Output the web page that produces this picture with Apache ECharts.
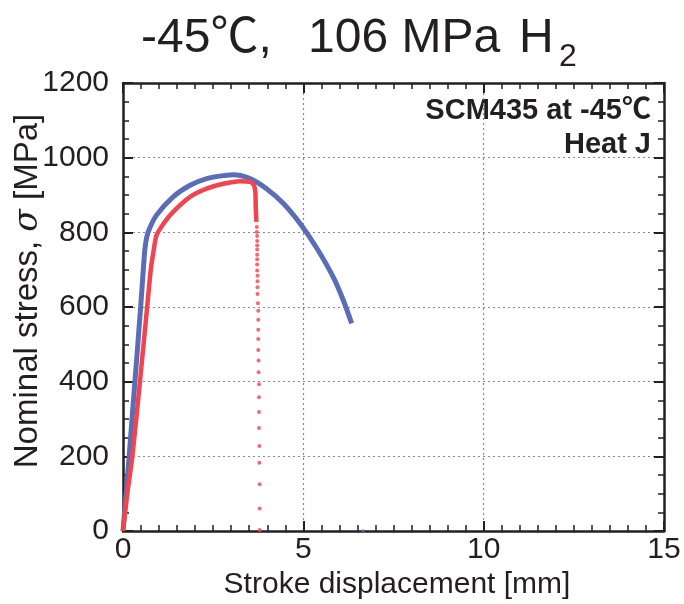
<!DOCTYPE html>
<html>
<head>
<meta charset="utf-8">
<script src="https://cdn.jsdelivr.net/npm/echarts@6/dist/echarts.min.js"></script>
<style>
html, body { margin: 0; padding: 0; background: #fff; }
#chart { width: 684px; height: 604px; }
</style>
</head>
<body>
<div id="chart"></div>
<script>
// Tensile curve, reference (blue) — stroke displacement [mm], nominal stress [MPa]
const refStroke = [0, 0.17, 0.33, 0.49, 0.57, 0.62, 0.70, 0.93, 1.39, 1.86, 2.32, 2.87, 3.06, 3.52, 3.98, 4.44, 4.90, 5.37, 5.83, 6.10, 6.34];
const refStress = [0, 200, 400, 600, 710, 765, 801, 846, 895, 926, 944, 953, 954, 944, 917, 878, 825, 758, 680, 620, 556];

// Tensile curve in 106 MPa H2 (red), continuous part
const h2Stroke = [0, 0.12, 0.26, 0.47, 0.67, 0.77, 0.84, 0.93, 1.16, 1.39, 1.86, 2.32, 2.78, 3.24, 3.52, 3.63, 3.67, 3.68, 3.69, 3.70];
const h2Stress = [0, 100, 200, 400, 600, 700, 745, 792, 828, 855, 895, 917, 930, 937, 935, 926, 908, 870, 845, 828];

// Sparse data points recorded during the final load drop
const dropStroke = [3.71, 3.71, 3.72, 3.72, 3.72, 3.72, 3.72, 3.72, 3.72, 3.72, 3.73, 3.73, 3.73, 3.73, 3.74, 3.75, 3.75, 3.75, 3.75, 3.75, 3.76, 3.76, 3.77, 3.77, 3.77, 3.77, 3.78, 3.78, 3.79, 3.79, 3.79];
const dropStress = [814, 801, 790, 777, 765, 754, 740, 728, 714, 698, 684, 669, 653, 635, 610, 590, 566, 539, 514, 485, 457, 425, 393, 358, 319, 276, 228, 183, 125, 60, 3];

// Stray reference point after fracture
const strayStroke = [6.66];
const strayStress = [0];

const xTicks = [0, 5, 10, 15];
const yTicks = [0, 200, 400, 600, 800, 1000, 1200];

const pairs = (xs, ys) => xs.map((x, i) => [x, ys[i]]);

const INK = '#231f20';
const FONT = '"Liberation Sans", Arial, "Noto Sans CJK JP", sans-serif';

const chart = echarts.init(document.getElementById('chart'), null, { renderer: 'canvas' });

function baseX(extra) {
  return Object.assign({
    type: 'value',
    min: xTicks[0], max: xTicks[xTicks.length - 1], interval: 5,
    axisLine: { show: true, onZero: false, lineStyle: { color: INK, width: 2.5 } },
    axisTick: { show: true, inside: true, length: 10, lineStyle: { color: INK, width: 2 } },
    minorTick: { show: true, splitNumber: 10, length: 6, lineStyle: { color: INK, width: 1.5 } },
    splitLine: { show: false }
  }, extra);
}
function baseY(extra) {
  return Object.assign({
    type: 'value',
    min: yTicks[0], max: yTicks[yTicks.length - 1], interval: 200,
    axisLine: { show: true, onZero: false, lineStyle: { color: INK, width: 2.5 } },
    axisTick: { show: true, inside: true, length: 10, lineStyle: { color: INK, width: 2 } },
    minorTick: { show: true, splitNumber: 4, length: 6, lineStyle: { color: INK, width: 1.5 } },
    splitLine: { show: false }
  }, extra);
}

const titleStyle = { fontSize: 48, fontFamily: FONT, fill: INK };

const option = {
  backgroundColor: '#ffffff',
  animation: false,
  grid: { left: 123, right: 20, top: 83, bottom: 73, containLabel: false },
  xAxis: [
    baseX({
      position: 'bottom',
      axisLabel: { show: true, fontSize: 30, color: INK, fontFamily: FONT, margin: 4, formatter: v => String(v) },
      splitLine: { show: true, lineStyle: { color: '#8a8a8a', type: [2, 3], width: 1.2 } }
    }),
    baseX({ position: 'top', axisLabel: { show: false } })
  ],
  yAxis: [
    baseY({
      position: 'left',
      axisLabel: { show: true, fontSize: 30, color: INK, fontFamily: FONT, margin: 14, formatter: v => String(v) },
      splitLine: { show: true, lineStyle: { color: '#8a8a8a', type: [2, 3], width: 1.2 } }
    }),
    baseY({ position: 'right', axisLabel: { show: false } })
  ],
  series: [
    {
      type: 'line', xAxisIndex: 0, yAxisIndex: 0,
      data: pairs(refStroke, refStress),
      smooth: 0.3, showSymbol: false, symbol: 'none',
      lineStyle: { color: '#5a6db6', width: 5 }, z: 3
    },
    {
      type: 'line', xAxisIndex: 0, yAxisIndex: 0,
      data: pairs(h2Stroke, h2Stress),
      smooth: 0.25, showSymbol: false, symbol: 'none',
      lineStyle: { color: '#f0444f', width: 4.5 }, z: 4
    },
    {
      type: 'scatter', xAxisIndex: 0, yAxisIndex: 0,
      data: pairs(dropStroke, dropStress),
      symbol: 'circle', symbolSize: 4,
      itemStyle: { color: '#f0444f' }, z: 4
    },
    {
      type: 'scatter', xAxisIndex: 0, yAxisIndex: 0,
      data: pairs(strayStroke, strayStress),
      symbol: 'circle', symbolSize: 3.5,
      itemStyle: { color: '#5a6db6' }, z: 4
    }
  ],
  graphic: [
    { type: 'text', left: 141, top: 15, style: Object.assign({ text: '-45℃,' }, titleStyle) },
    { type: 'text', left: 308, top: 15, style: Object.assign({ text: '106 MPa' }, titleStyle) },
    { type: 'text', left: 519, top: 15, style: Object.assign({ text: 'H' }, titleStyle) },
    { type: 'text', left: 559, top: 41, style: { text: '2', fontSize: 32, fontFamily: FONT, fill: INK } },
    {
      type: 'text', right: 33, top: 96,
      style: { text: 'SCM435 at -45℃', fontSize: 29, fontWeight: 'bold', fontFamily: FONT, fill: INK, align: 'right' }
    },
    {
      type: 'text', right: 33, top: 130,
      style: { text: 'Heat J', fontSize: 29, fontWeight: 'bold', fontFamily: FONT, fill: INK, align: 'right' }
    },
    {
      type: 'text', x: 397, y: 585,
      style: {
        text: 'Stroke displacement [mm]', fontSize: 30, fontFamily: FONT, fill: INK,
        align: 'center', verticalAlign: 'middle'
      }
    },
    {
      type: 'text', x: 28, y: 291, rotation: Math.PI / 2,
      style: {
        text: 'Nominal stress, {s|σ} [MPa]', fontSize: 33, fontFamily: FONT, fill: INK,
        align: 'center', verticalAlign: 'middle',
        rich: { s: { fontSize: 33, fontStyle: 'italic', fontFamily: '"DejaVu Serif", "Liberation Serif", serif', fill: INK } }
      }
    }
  ]
};

chart.setOption(option);
</script>
</body>
</html>
